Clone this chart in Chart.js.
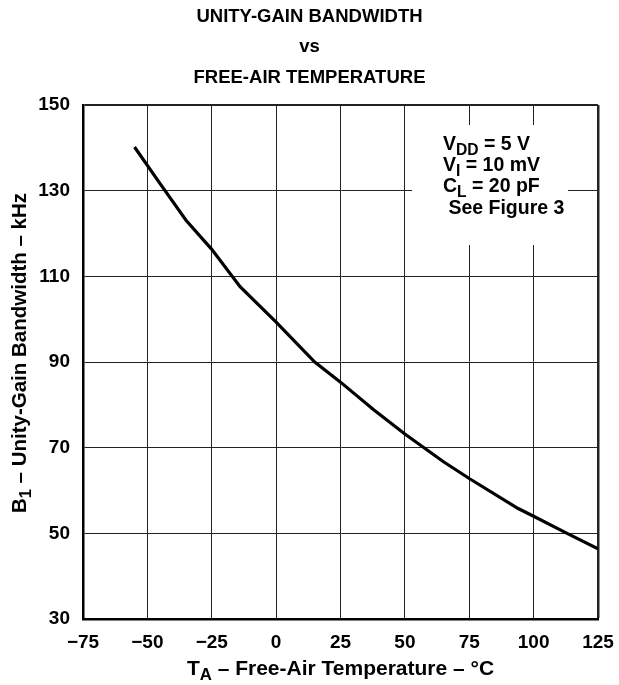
<!DOCTYPE html>
<html lang="en">
<head>
<meta charset="utf-8">
<title>Unity-Gain Bandwidth vs Free-Air Temperature</title>
<style>
  html, body { margin: 0; padding: 0; background: #fff; }
  #wrap { width: 619px; height: 685px; }
</style>
</head>
<body>
<div id="wrap"><canvas id="myChart" width="619" height="685"></canvas></div>

<script src="https://cdn.jsdelivr.net/npm/chart.js"></script>
<script>
    // free-air temperature (°C) and unity-gain bandwidth (kHz)
    const temps = [-55, -45, -35, -25, -14, 0, 15, 25, 38, 50, 65, 75, 94, 100, 113, 125];
    const bandwidth = [140.2, 131.6, 123.1, 116.3, 107.6, 99.3, 90, 85.3, 78.8, 73.2, 66.7, 62.8, 55.8, 54, 50, 46.4];

    const xTicks = [-75, -50, -25, 0, 25, 50, 75, 100, 125];
    const yTicks = [30, 50, 70, 90, 110, 130, 150];

    const titleLines = ['UNITY-GAIN BANDWIDTH', 'vs', 'FREE-AIR TEMPERATURE'];

    // rich text pieces: [text, isSubscript]
    const xTitle = [['T', false], ['A', true], [' \u2013 Free-Air Temperature \u2013 \u00B0C', false]];
    const yTitle = [['B', false], ['1', true], [' \u2013 Unity-Gain Bandwidth \u2013 kHz', false]];
    const conditions = [
        [['V', false], ['DD', true], [' = 5 V', false]],
        [['V', false], ['I', true], [' = 10 mV', false]],
        [['C', false], ['L', true], [' = 20 pF', false]],
        [[' See Figure 3', false]]
    ];

    const FONT = '"Liberation Sans", Arial, Helvetica, sans-serif';

    function richWidth(ctx, parts, size) {
        let w = 0;
        parts.forEach(function (p) {
            ctx.font = 'bold ' + (p[1] ? size * 0.8 : size) + 'px ' + FONT;
            w += ctx.measureText(p[0]).width;
        });
        return w;
    }

    function drawRich(ctx, parts, x, y, size) {
        ctx.textBaseline = 'alphabetic';
        ctx.textAlign = 'left';
        parts.forEach(function (p) {
            const s = p[1] ? size * 0.8 : size;
            ctx.font = 'bold ' + s + 'px ' + FONT;
            ctx.fillText(p[0], x, p[1] ? y + size * 0.25 : y);
            x += ctx.measureText(p[0]).width;
        });
    }

    // axis titles with subscripts and the white test-conditions box
    const decorations = {
        id: 'decorations',
        beforeDatasetsDraw(chart) {
            const ctx = chart.ctx;
            const a = chart.chartArea;
            ctx.save();
            ctx.fillStyle = '#fff';
            ctx.fillRect(a.left + 329, a.top + 20, a.right - 30 - (a.left + 329), 120);
            ctx.fillStyle = '#000';
            const left = a.left + 360;
            conditions.forEach(function (line, i) {
                drawRich(ctx, line, left, a.top + 45 + i * 21.2, 19.5);
            });
            ctx.restore();
        },
        afterDraw(chart) {
            const ctx = chart.ctx;
            const a = chart.chartArea;
            ctx.save();
            ctx.fillStyle = '#000';
            let w = richWidth(ctx, xTitle, 21);
            drawRich(ctx, xTitle, (a.left + a.right) / 2 - w / 2, chart.height - 10, 21);

            w = richWidth(ctx, yTitle, 20.5);
            ctx.translate(26, (a.top + a.bottom) / 2 - 9);
            ctx.rotate(-Math.PI / 2);
            drawRich(ctx, yTitle, -w / 2, 0, 20.5);
            ctx.restore();
        }
    };

    function minusLabel(v) {
        return v < 0 ? '\u2212' + Math.abs(v) : String(v);
    }

    const myChart = new Chart(document.getElementById('myChart'), {
        type: 'line',
        data: {
            labels: temps,
            datasets: [{
                data: temps.map(function (t, i) { return { x: t, y: bandwidth[i] }; }),
                borderColor: '#000',
                borderWidth: 3.2,
                pointRadius: 0,
                tension: 0,
                fill: false
            }]
        },
        options: {
            responsive: false,
            animation: false,
            layout: { padding: { left: 21, right: 21, top: 0, bottom: 0 } },
            plugins: {
                legend: { display: false },
                tooltip: { enabled: false },
                title: {
                    display: true,
                    text: titleLines,
                    color: '#000',
                    font: { family: FONT, size: 18.5, weight: 'bold', lineHeight: '30.5px' },
                    padding: { top: 1.5, bottom: 12 }
                }
            },
            scales: {
                x: {
                    type: 'linear',
                    min: -75,
                    max: 125,
                    afterFit: function (s) { s.height = 66; s.paddingLeft = 0; s.paddingRight = 0; },
                    afterBuildTicks: function (s) { s.ticks = xTicks.map(function (v) { return { value: v }; }); },
                    ticks: {
                        color: '#000',
                        padding: 12,
                        maxRotation: 0,
                        font: { family: FONT, size: 19, weight: 'bold' },
                        callback: minusLabel
                    },
                    grid: {
                        color: '#222',
                        lineWidth: function (c) { return c.tick && c.tick.value === 125 ? 2.5 : 1; },
                        drawTicks: false
                    },
                    border: { display: true, color: '#000', width: 2.5 }
                },
                y: {
                    type: 'linear',
                    min: 30,
                    max: 150,
                    afterFit: function (s) { s.width = 62; s.paddingTop = 0; s.paddingBottom = 0; },
                    afterBuildTicks: function (s) { s.ticks = yTicks.map(function (v) { return { value: v }; }); },
                    ticks: {
                        color: '#000',
                        padding: 13,
                        font: { family: FONT, size: 19, weight: 'bold' }
                    },
                    grid: {
                        color: '#222',
                        lineWidth: function (c) { return c.tick && c.tick.value === 150 ? 2 : 1; },
                        drawTicks: false
                    },
                    border: { display: true, color: '#000', width: 2.5 }
                }
            }
        },
        plugins: [decorations]
    });
</script>
</body>
</html>
